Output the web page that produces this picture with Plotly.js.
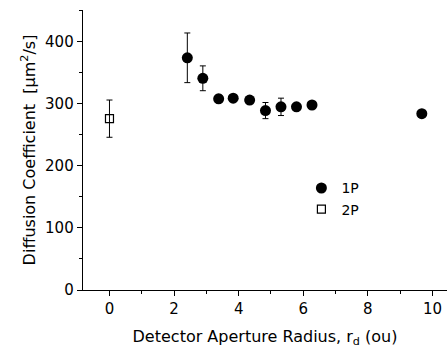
<!DOCTYPE html>
<html><head><meta charset="utf-8">
<script src="https://cdn.plot.ly/plotly-3.0.1.min.js"></script>
<style>body{margin:0;background:#fff}#c{width:447px;height:356px}</style>
</head><body><div id="c"></div>
<script>
const x1P = [2.41, 2.89, 3.38, 3.83, 4.34, 4.83, 5.31, 5.79, 6.27, 9.67];
const y1P = [374, 341, 308, 309, 306, 289, 295, 295, 298, 284];
const e1P = [40, 20, 6, 5, 5, 13, 14, 5, 4, 4];
const x2P = [0.0];
const y2P = [276];
const e2P = [30];
const xTicks = [0, 2, 4, 6, 8, 10];
const yTicks = [0, 100, 200, 300, 400];

const traces = [
  {x: x1P, y: y1P, name: '1P', type: 'scatter', mode: 'markers',
   marker: {symbol: 'circle', size: 11, color: '#000'},
   error_y: {type: 'data', array: e1P, visible: true, color: '#000', thickness: 1, width: 3}},
  {x: x2P, y: y2P, name: '2P', type: 'scatter', mode: 'markers',
   marker: {symbol: 'square-open', size: 8, color: '#000', line: {width: 1.2}},
   error_y: {type: 'data', array: e2P, visible: true, color: '#000', thickness: 1, width: 3}}
];

const layout = {
  width: 447, height: 356,
  margin: {l: 83, r: 0, t: 10, b: 66},
  paper_bgcolor: '#fff', plot_bgcolor: '#fff',
  font: {family: 'DejaVu Sans, Verdana, sans-serif', size: 15, color: '#000'},
  showlegend: true,
  legend: {x: 0.6, y: 0.42, xanchor: 'left', yanchor: 'top', bgcolor: 'rgba(0,0,0,0)',
           font: {size: 14}, tracegroupgap: 0, itemwidth: 30},
  xaxis: {
    range: [-0.82, 10.45], tickvals: xTicks, ticktext: xTicks.map(String),
    showline: true, linecolor: '#000', linewidth: 1.3, showgrid: false, zeroline: false,
    ticks: 'outside', ticklen: 5, tickwidth: 1, tickcolor: '#000',
    tickfont: {size: 15},
    minor: {dtick: 1, ticks: 'outside', ticklen: 3, tickwidth: 1, tickcolor: '#000', showgrid: false},
    title: {text: 'Detector Aperture Radius, r<sub>d</sub> (ou)', font: {size: 16}, standoff: 13}
  },
  yaxis: {
    range: [0, 451], tickvals: yTicks, ticktext: yTicks.map(String),
    showline: true, linecolor: '#000', linewidth: 1.3, showgrid: false, zeroline: false,
    ticks: 'outside', ticklen: 5, tickwidth: 1, tickcolor: '#000',
    tickfont: {size: 15},
    minor: {dtick: 50, ticks: 'outside', ticklen: 3, tickwidth: 1, tickcolor: '#000', showgrid: false},
    title: {text: 'Diffusion Coefficient  [µm<sup>2</sup>/s]\u00a0\u00a0\u00a0\u00a0\u00a0', font: {size: 16}, standoff: 5}
  }
};
Plotly.newPlot('c', traces, layout, {displayModeBar: false, staticPlot: true});
</script></body></html>
